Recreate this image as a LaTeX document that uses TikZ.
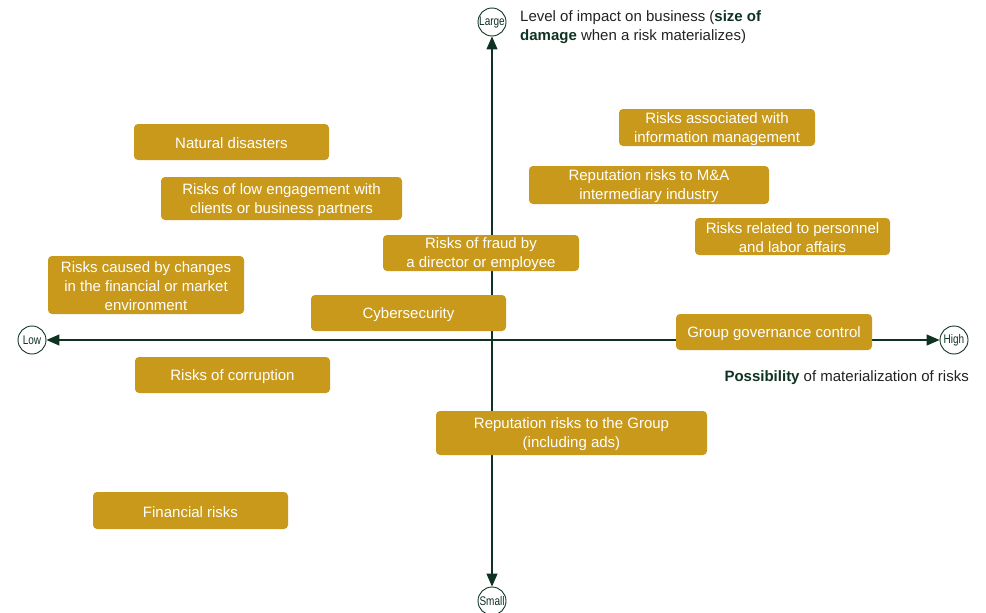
\documentclass[tikz,border=0pt]{standalone}
\usepackage{fontspec}
\setmainfont{Liberation Sans}
\usetikzlibrary{arrows.meta}
\definecolor{riskgold}{HTML}{C8991A}
\definecolor{axisgreen}{HTML}{0F3323}
\definecolor{labeltext}{HTML}{222222}
\begin{document}
\begin{tikzpicture}[x=1pt,y=-1pt,
  riskbox/.style={fill=riskgold, rounded corners=4pt, inner sep=0pt},
  risktext/.style={text=white, align=center, font=\fontsize{15}{19}\selectfont, inner sep=0pt},
  endmark/.style={circle, draw=axisgreen, line width=0.9pt, fill=white, minimum size=28pt,
    inner sep=0pt, text=axisgreen, font=\fontsize{12.5}{12.5}\selectfont},
  axisline/.style={draw=axisgreen, line width=1.3pt,
    {Triangle[length=13pt,width=11pt]}-{Triangle[length=13pt,width=11pt]}},
  axislabel/.style={text=labeltext, font=\fontsize{15}{19}\selectfont, inner sep=0pt}
]
\useasboundingbox (0,0) rectangle (986,613);

% axis end markers
\node[endmark] (large) at (492,22) {\scalebox{0.8}[1]{Large}};
\node[endmark] (small) at (492,601) {\scalebox{0.8}[1]{Small}};
\node[endmark] (low) at (32,340) {\scalebox{0.8}[1]{Low}};
\node[endmark] (high) at (954,340) {\scalebox{0.8}[1]{High}};

% axes
\draw[axisline] (large) -- (small);
\draw[axisline] (low) -- (high);

% axis captions
\node[axislabel, anchor=north west, align=left] (impact) at (520,10)
  {Level of impact on business (\textbf{\color{axisgreen}size of}\\
   \textbf{\color{axisgreen}damage} when a risk materializes)};
\node[axislabel, anchor=east] (possib) at (969,378)
  {\textbf{\color{axisgreen}Possibility} of materialization of risks};

% risk boxes (left, top) -- (right, bottom); the text sits a little below centre
\newcommand{\riskat}[6]{%
  \node[riskbox, minimum width=#3-#1, minimum height=#4-#2] (#5)
    at ({(#1+#3)/2},{(#2+#4)/2}) {};
  \node[risktext] (#5-text) at ([yshift=-1.5pt]#5.center) {#6};}
\riskat{134}{124}{329}{160}{natural}{Natural disasters}
\riskat{161}{177}{402}{220}{engage}{Risks of low engagement with\\clients or business partners}
\riskat{48}{256}{244}{314}{market}{Risks caused by changes\\in the financial or market\\environment}
\riskat{383}{235}{579}{271}{fraud}{Risks of fraud by\\a director or employee}
\riskat{311}{295}{506}{331}{cyber}{Cybersecurity}
\riskat{619}{109}{815}{146}{info}{Risks associated with\\information management}
\riskat{529}{166}{769}{204}{mna}{Reputation risks to M\&A\\intermediary industry}
\riskat{695}{218}{890}{255}{labor}{Risks related to personnel\\and labor affairs}
\riskat{676}{314}{872}{350}{govern}{Group governance control}
\riskat{135}{357}{330}{393}{corrupt}{Risks of corruption}
\riskat{436}{411}{707}{455}{group}{Reputation risks to the Group\\(including ads)}
\riskat{93}{492}{288}{529}{finance}{Financial risks}
\end{tikzpicture}
\end{document}
